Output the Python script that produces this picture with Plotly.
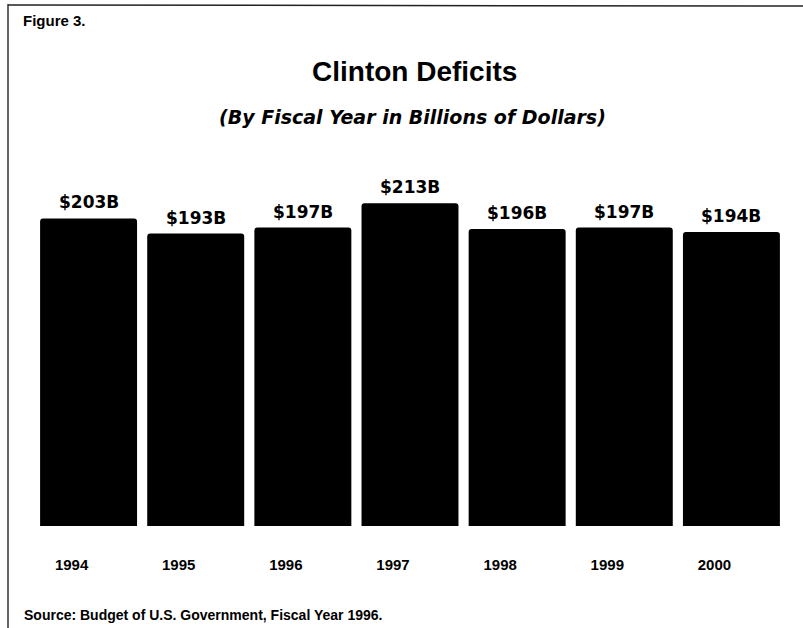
import plotly.graph_objects as go

# Fiscal years and projected deficits (billions of dollars)
years = ["1994", "1995", "1996", "1997", "1998", "1999", "2000"]
deficits = [203, 193, 197, 213, 196, 197, 194]
value_labels = ["$203B", "$193B", "$197B", "$213B", "$196B", "$197B", "$194B"]

title_text = "Clinton Deficits"
subtitle_text = "(By Fiscal Year in Billions of Dollars)"
figure_label = "Figure 3."
source_text = "Source: Budget of U.S. Government, Fiscal Year 1996."

W, H = 803, 628
ML, MR, MT, MB = 35, 18, 190, 102
PW, PH = W - ML - MR, H - MT - MB


def px_x(px):
    return (px - ML) / PW


def px_y(py):
    return (H - MB - py) / PH


ARIAL = "Liberation Sans, Arial, sans-serif"
WIDE = "DejaVu Sans, Verdana, sans-serif"

fig = go.Figure(
    go.Bar(
        x=years,
        y=deficits,
        marker=dict(color="#000000", line=dict(width=0), cornerradius=3),
        hoverinfo="skip",
    )
)

# value labels sitting above each bar (category index positions)
for i, (v, lab) in enumerate(zip(deficits, value_labels)):
    fig.add_annotation(
        x=i, y=v, xref="x", yref="y", text=lab, showarrow=False,
        yanchor="bottom", xanchor="center", yshift=4,
        font=dict(family=WIDE, size=17, color="#000000", weight="bold"),
    )

annotations_text = [
    dict(x=px_x(414), y=px_y(72), text=f"<b>{title_text}</b>", xanchor="center",
         yanchor="middle", font=dict(family=ARIAL, size=28, color="#000000")),
    dict(x=px_x(412), y=px_y(117), text=f"<b><i>{subtitle_text}</i></b>", xanchor="center",
         yanchor="middle", font=dict(family=WIDE, size=19, color="#000000")),
    dict(x=px_x(21), y=px_y(20.5), text=f"<b>{figure_label}</b>", xanchor="left",
         yanchor="middle", font=dict(family=ARIAL, size=15, color="#000000")),
    dict(x=px_x(22), y=px_y(615), text=f"<b>{source_text}</b>", xanchor="left",
         yanchor="middle", font=dict(family=ARIAL, size=14, color="#000000")),
]
for a in annotations_text:
    fig.add_annotation(xref="paper", yref="paper", showarrow=False, **a)

# page frame: top rule and left rule
fig.add_shape(type="line", xref="paper", yref="paper",
              x0=px_x(8), x1=px_x(803), y0=px_y(5), y1=px_y(6),
              line=dict(color="#222222", width=1.5))
fig.add_shape(type="line", xref="paper", yref="paper",
              x0=px_x(8), x1=px_x(8), y0=px_y(4), y1=px_y(628),
              line=dict(color="#333333", width=1.5))

fig.update_layout(
    width=W, height=H,
    margin=dict(l=ML, r=MR, t=MT, b=MB, pad=0, autoexpand=False),
    paper_bgcolor="#ffffff",
    plot_bgcolor="#ffffff",
    showlegend=False,
    bargap=0.095,
    xaxis=dict(
        type="category", automargin=False, range=[-0.5, len(years) - 0.5],
        showgrid=False, zeroline=False, showline=False, ticks="",
        tickfont=dict(family=ARIAL, size=15, color="#000000", weight="bold"),
        ticklabelshift=-17, ticklabelstandoff=28,
    ),
    yaxis=dict(
        range=[0, PH / 1.515], showgrid=False, zeroline=False, automargin=False,
        showline=False, showticklabels=False, ticks="",
    ),
)

fig.write_html("out.html")
